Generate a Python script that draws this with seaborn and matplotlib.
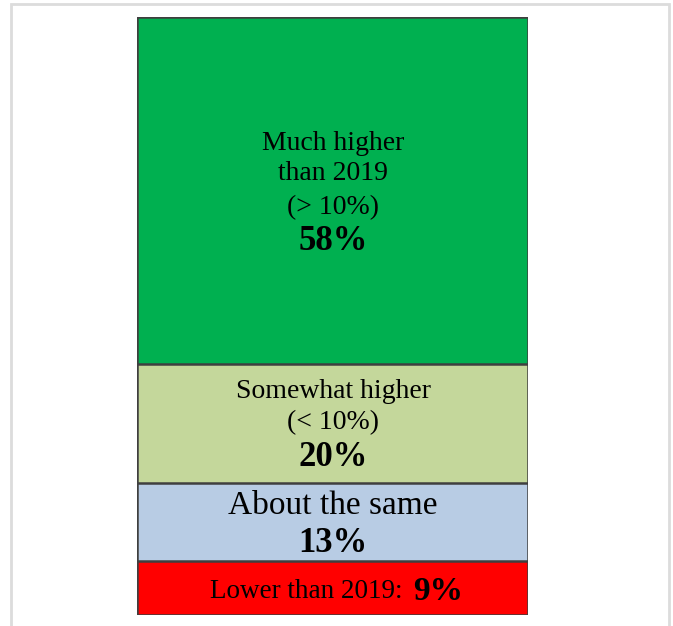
import matplotlib
matplotlib.use("Agg")
import matplotlib.pyplot as plt
import seaborn as sns
import pandas as pd
from matplotlib.patches import Rectangle

categories = ["Much higher than 2019 (> 10%)", "Somewhat higher (< 10%)", "About the same", "Lower than 2019"]
values = [58, 20, 13, 9]
colors = ["#00B050", "#C4D79B", "#B8CCE4", "#FF0000"]

sns.set_theme(style="white")
plt.rcParams['font.family'] = ['Liberation Serif', 'DejaVu Serif']

W, H = 673, 626
fig = plt.figure(figsize=(W/100, H/100), dpi=100)
fig.patch.set_facecolor("white")
fig.patches.append(Rectangle((11/W, -0.05), 658/W, 1.05 - 4/H, transform=fig.transFigure,
                             fill=False, edgecolor="#dcdcdc", linewidth=2, zorder=0))

ax = fig.add_axes([137/W, 1-615/H, (528-137)/W, (615-17)/H])

# cumulative stacked heights from bottom: red, blue, light green, green
order = list(range(len(values)))[::-1]  # bottom segment is last category
cum = []
total = 0
for i in order:
    total += values[i]
    cum.append(total)
# draw tallest first so smaller overlay
for k in range(len(order)-1, -1, -1):
    i = order[k]
    df = pd.DataFrame({"g": ["all"], "v": [cum[k]]})
    sns.barplot(data=df, x="g", y="v", color=colors[i], saturation=1, width=1,
                edgecolor="#3f3f3f", linewidth=1.8, ax=ax)

ax.set_xlim(-0.5, 0.5)
ax.set_ylim(0, 100)
ax.axis("off")

cx = 333/W
def t(y, s, size, weight="normal"):
    fig.text(cx, 1-y/H, s, ha="center", va="center", fontsize=size, fontweight=weight, color="black")

t(143, "Much higher", 20)
t(174, "than 2019", 20)
t(208, "(> 10%)", 20)
t(241, f"{values[0]}%", 25, "bold")
t(391, "Somewhat higher", 20)
t(423, "(< 10%)", 20)
t(458, f"{values[1]}%", 25, "bold")
t(506, "About the same", 24)
t(543, f"{values[2]}%", 25, "bold")
fig.text(403/W, 1-592/H, "Lower than 2019:", ha="right", va="center", fontsize=19.5, color="black")
fig.text(413/W, 1-591/H, f"{values[3]}%", ha="left", va="center", fontsize=24, fontweight="bold", color="black")

fig.savefig("out.png", dpi=100)
